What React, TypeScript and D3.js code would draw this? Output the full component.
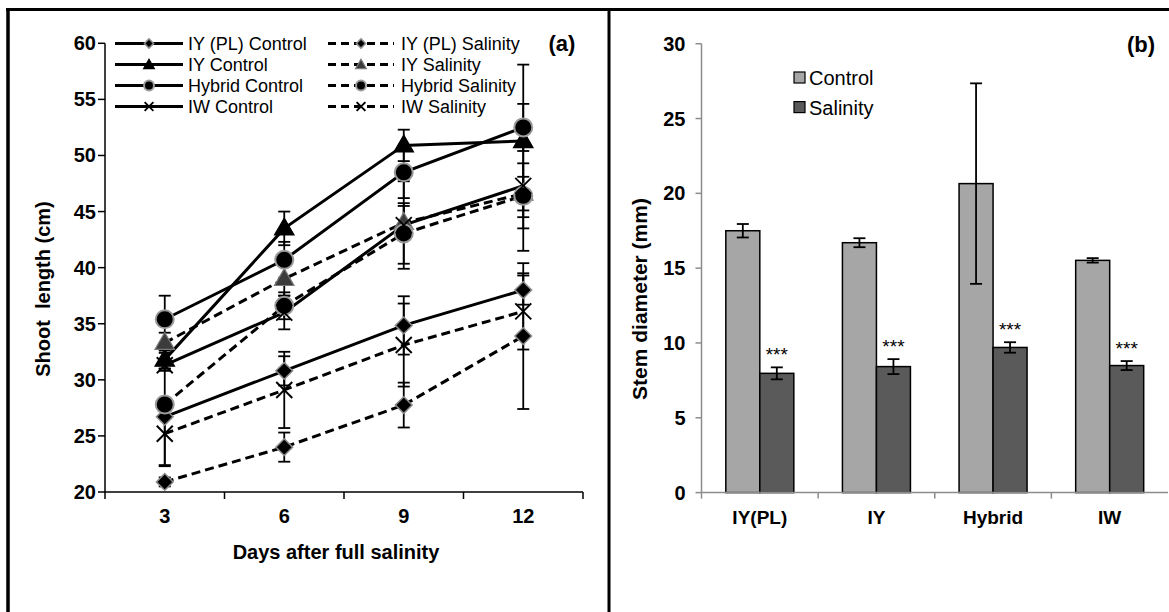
import React from "react";
import * as d3 from "d3";

// panel (a): shoot length over days
const days = ["3", "6", "9", "12"];
const iyplControl = [26.7, 30.8, 34.85, 38.0];
const iyplControlErr = [4.3, 1.3, 2.6, 1.3];
const iyplSalinity = [20.9, 24.0, 27.75, 33.9];
const iyplSalinityErr = [0.4, 1.3, 2.0, 6.5];
const iyControl = [31.8, 43.5, 50.9, 51.3];
const iyControlErr = [0.8, 1.5, 1.4, 6.8];
const iySalinity = [33.3, 39.0, 44.0, 46.6];
const iySalinityErr = [0.9, 1.5, 1.5, 1.5];
const hybridControl = [35.4, 40.7, 48.5, 52.5];
const hybridControlErr = [2.1, 1.6, 2.3, 2.1];
const hybridSalinity = [27.8, 36.6, 43.05, 46.4];
const hybridSalinityErr = [0.6, 1.2, 2.7, 2.9];
const iwControl = [31.3, 36.0, 43.8, 47.3];
const iwControlErr = [0.5, 1.5, 3.9, 5.8];
const iwSalinity = [25.2, 29.1, 33.1, 36.1];
const iwSalinityErr = [2.9, 3.4, 3.7, 3.4];
const leftTicks = [20, 25, 30, 35, 40, 45, 50, 55, 60];

// panel (b): stem diameter
const genotypes = ["IY(PL)", "IY", "Hybrid", "IW"];
const treatments = ["Control", "Salinity"];
const stemControl = [17.5, 16.7, 20.65, 15.52];
const stemControlErr = [0.45, 0.3, 6.7, 0.15];
const stemSalinity = [7.97, 8.42, 9.7, 8.49];
const stemSalinityErr = [0.4, 0.5, 0.35, 0.3];
const rightTicks = [0, 5, 10, 15, 20, 25, 30];

const font = "'Liberation Sans', Arial, sans-serif";

const series = [
  { name: "IY (PL) Control", values: iyplControl, err: iyplControlErr, marker: "diamond", dash: false },
  { name: "IY (PL) Salinity", values: iyplSalinity, err: iyplSalinityErr, marker: "diamond", dash: true },
  { name: "IY Control", values: iyControl, err: iyControlErr, marker: "triangle", dash: false },
  { name: "IY Salinity", values: iySalinity, err: iySalinityErr, marker: "triangle", dash: true },
  { name: "Hybrid Control", values: hybridControl, err: hybridControlErr, marker: "circle", dash: false },
  { name: "Hybrid Salinity", values: hybridSalinity, err: hybridSalinityErr, marker: "circle", dash: true },
  { name: "IW Control", values: iwControl, err: iwControlErr, marker: "x", dash: false },
  { name: "IW Salinity", values: iwSalinity, err: iwSalinityErr, marker: "x", dash: true },
];

function Marker({ type, dash, x, y, small }: any) {
  const k = small ? 0.55 : 1;
  if (type === "diamond") {
    const d = d3.symbol(d3.symbolSquare, 140 * k * k)();
    return (
      <path d={d!} transform={`translate(${x},${y}) rotate(45)`} fill="#000" stroke="#8c8c8c" strokeWidth={1.5} />
    );
  }
  if (type === "triangle") {
    const d = d3.symbol(d3.symbolTriangle, 165 * k * k)();
    return (
      <path
        d={d!}
        transform={`translate(${x},${y + 1})`}
        fill={dash ? "#3c3c3c" : "#000"}
        stroke={dash ? "#7a7a7a" : "#000"}
        strokeWidth={1.2}
      />
    );
  }
  if (type === "circle") {
    return <circle cx={x} cy={y} r={9 * k} fill="#000" stroke="#9a9a9a" strokeWidth={2} />;
  }
  const s = 8 * k;
  return (
    <g stroke="#000" strokeWidth={dash ? 2 : 1.8}>
      <line x1={x - s} y1={y - s} x2={x + s} y2={y + s} />
      <line x1={x - s} y1={y + s} x2={x + s} y2={y - s} />
    </g>
  );
}

function PanelA() {
  const x0 = 105;
  const x1 = 583;
  const x = d3.scaleBand().domain(days).range([x0, x1]);
  const y = d3.scaleLinear().domain([20, 60]).range([492, 43.3]);
  const cx = (d: string) => x(d)! + x.bandwidth() / 2;
  const line = d3
    .line<number>()
    .x((_, i) => cx(days[i]))
    .y((v) => y(v));

  return (
    <g fontFamily={font}>
      {/* axes */}
      <line x1={x0} x2={x0} y1={y(60)} y2={y(20)} stroke="#000" strokeWidth={1.5} />
      <line x1={x0} x2={x1} y1={y(20)} y2={y(20)} stroke="#000" strokeWidth={1.5} />
      {leftTicks.map((t) => (
        <g key={t}>
          <line x1={x0 - 7} x2={x0} y1={y(t)} y2={y(t)} stroke="#000" strokeWidth={1.5} />
          <text x={x0 - 9} y={y(t) + 7} textAnchor="end" fontSize={20} fontWeight="bold">
            {t}
          </text>
        </g>
      ))}
      {days.map((d) => (
        <g key={d}>
          <line x1={x(d)!} x2={x(d)!} y1={y(20)} y2={y(20) + 7} stroke="#000" strokeWidth={1.5} />
          <text x={cx(d)} y={y(20) + 31} textAnchor="middle" fontSize={20} fontWeight="bold">
            {d}
          </text>
        </g>
      ))}
      <line x1={x1} x2={x1} y1={y(20)} y2={y(20) + 7} stroke="#000" strokeWidth={1.5} />
      <text x={336} y={559} textAnchor="middle" fontSize={20} fontWeight="bold">
        Days after full salinity
      </text>
      <text
        transform={`translate(50,${289}) rotate(-90)`}
        textAnchor="middle"
        fontSize={20}
        fontWeight="bold"
        style={{ whiteSpace: "pre" }}
      >
        {"Shoot  length (cm)"}
      </text>
      <text x={562} y={51} textAnchor="middle" fontSize={22} fontWeight="bold">
        (a)
      </text>

      {/* error bars */}
      {series.map((s) =>
        s.values.map((v, i) => {
          const px = cx(days[i]);
          return (
            <g key={s.name + i} stroke="#000" strokeWidth={1.8}>
              <line x1={px} x2={px} y1={y(v - s.err[i])} y2={y(v + s.err[i])} />
              <line x1={px - 6} x2={px + 6} y1={y(v - s.err[i])} y2={y(v - s.err[i])} />
              <line x1={px - 6} x2={px + 6} y1={y(v + s.err[i])} y2={y(v + s.err[i])} />
            </g>
          );
        })
      )}
      {/* lines */}
      {series.map((s) => (
        <path
          key={s.name}
          d={line(s.values)!}
          fill="none"
          stroke="#000"
          strokeWidth={3}
          strokeDasharray={s.dash ? "9,5" : undefined}
        />
      ))}
      {/* markers */}
      {series.map((s) =>
        s.values.map((v, i) => (
          <Marker key={s.name + "m" + i} type={s.marker} dash={s.dash} x={cx(days[i])} y={y(v)} />
        ))
      )}

      {/* legend */}
      {series.map((s, i) => {
        const col = i % 2;
        const row = Math.floor(i / 2);
        const ly = 43.5 + row * 21;
        const lx0 = col ? 328 : 115;
        const lx1 = col ? 394 : 183;
        return (
          <g key={s.name + "leg"}>
            <line
              x1={lx0}
              x2={lx1}
              y1={ly}
              y2={ly}
              stroke="#000"
              strokeWidth={3}
              strokeDasharray={s.dash ? "8,5" : undefined}
            />
            <Marker type={s.marker} dash={s.dash} x={(lx0 + lx1) / 2} y={ly} small />
            <text x={col ? 401 : 188} y={ly + 6.5} fontSize={18}>
              {s.name}
            </text>
          </g>
        );
      })}
    </g>
  );
}

function PanelB() {
  const xl = 701.5;
  const xr = 1168;
  const x0 = d3.scaleBand().domain(genotypes).range([xl, xr]);
  const x1 = d3.scaleBand().domain(treatments).range([0, x0.bandwidth()]).paddingOuter(0.715);
  const y = d3.scaleLinear().domain([0, 30]).range([492.6, 43.7]);
  const vals = [stemControl, stemSalinity];
  const errs = [stemControlErr, stemSalinityErr];
  const fills = ["#a6a6a6", "#5a5a5a"];

  return (
    <g fontFamily={font}>
      <line x1={xl} x2={xl} y1={y(30)} y2={y(0)} stroke="#8c8c8c" strokeWidth={1.5} />
      {rightTicks.map((t) => (
        <g key={t}>
          <line x1={xl - 6} x2={xl} y1={y(t)} y2={y(t)} stroke="#8c8c8c" strokeWidth={1.5} />
          <text x={xl - 16} y={y(t) + 7} textAnchor="end" fontSize={20} fontWeight="bold">
            {t}
          </text>
        </g>
      ))}
      {/* bars */}
      {genotypes.map((g, gi) =>
        treatments.map((t, ti) => {
          const bx = x0(g)! + x1(t)!;
          const v = vals[ti][gi];
          return (
            <rect
              key={g + t}
              x={bx}
              y={y(v)}
              width={x1.bandwidth()}
              height={y(0) - y(v)}
              fill={fills[ti]}
              stroke="#000"
              strokeWidth={1.5}
            />
          );
        })
      )}
      <line x1={xl} x2={xr} y1={y(0)} y2={y(0)} stroke="#8c8c8c" strokeWidth={1.5} />
      {genotypes.map((g) => (
        <g key={g}>
          <line x1={x0(g)!} x2={x0(g)!} y1={y(0)} y2={y(0) + 6} stroke="#8c8c8c" strokeWidth={1.5} />
          <text
            x={x0(g)! + x0.bandwidth() / 2}
            y={y(0) + 31}
            textAnchor="middle"
            fontSize={19}
            fontWeight="bold"
          >
            {g}
          </text>
        </g>
      ))}
      {/* error bars */}
      {genotypes.map((g, gi) =>
        treatments.map((t, ti) => {
          const px = x0(g)! + x1(t)! + x1.bandwidth() / 2;
          const v = vals[ti][gi];
          const e = errs[ti][gi];
          return (
            <g key={g + t + "e"} stroke="#000" strokeWidth={1.8}>
              <line x1={px} x2={px} y1={y(v - e)} y2={y(v + e)} />
              <line x1={px - 6} x2={px + 6} y1={y(v - e)} y2={y(v - e)} />
              <line x1={px - 6} x2={px + 6} y1={y(v + e)} y2={y(v + e)} />
            </g>
          );
        })
      )}
      {/* significance */}
      {genotypes.map((g, gi) => {
        const px = x0(g)! + x1("Salinity")! + x1.bandwidth() / 2;
        const top = y(stemSalinity[gi] + stemSalinityErr[gi]);
        return (
          <text key={g + "s"} x={px} y={top - 6} textAnchor="middle" fontSize={19}>
            ***
          </text>
        );
      })}
      <text
        transform={`translate(647,299) rotate(-90)`}
        textAnchor="middle"
        fontSize={21}
        fontWeight="bold"
      >
        Stem diameter (mm)
      </text>
      <text x={1141} y={52} textAnchor="middle" fontSize={22} fontWeight="bold">
        (b)
      </text>
      {/* legend */}
      {treatments.map((t, i) => (
        <g key={t + "leg"}>
          <rect x={794} y={72 + i * 29.6} width={11} height={11} fill={fills[i]} stroke="#000" strokeWidth={1.2} />
          <text x={809} y={85 + i * 29.6} fontSize={20}>
            {t}
          </text>
        </g>
      ))}
    </g>
  );
}

export default function App() {
  return (
    <div style={{ position: "absolute", left: 0, top: 0 }}>
      <svg width={1169} height={612} style={{ display: "block", background: "#fff" }}>
        <rect x={0} y={0} width={1169} height={612} fill="#fff" />
        <line x1={6} x2={1169} y1={9.5} y2={9.5} stroke="#000" strokeWidth={3} />
        <line x1={8} x2={8} y1={8} y2={612} stroke="#000" strokeWidth={3.5} />
        <line x1={609} x2={609} y1={8} y2={612} stroke="#000" strokeWidth={3} />
        <PanelA />
        <PanelB />
      </svg>
    </div>
  );
}
